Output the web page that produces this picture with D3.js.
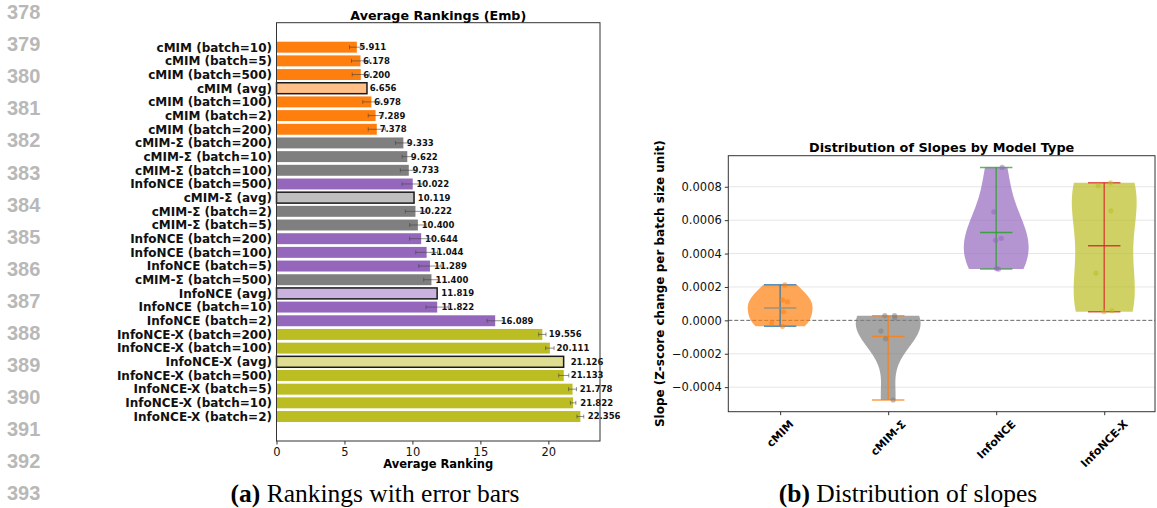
<!DOCTYPE html>
<html>
<head>
<meta charset="utf-8">
<script src="https://cdn.jsdelivr.net/npm/d3@7"></script>
<style>
  body { margin: 0; background: #fff; }
  svg { display: block; font-family: 'DejaVu Sans', sans-serif; }
</style>
</head>
<body>
<div id="root"></div>
<script>
// ---- data: left panel (average rankings) ----
const rankLabels = [
  'cMIM (batch=10)', 'cMIM (batch=5)', 'cMIM (batch=500)', 'cMIM (avg)',
  'cMIM (batch=100)', 'cMIM (batch=2)', 'cMIM (batch=200)',
  'cMIM-Σ (batch=200)', 'cMIM-Σ (batch=10)', 'cMIM-Σ (batch=100)',
  'InfoNCE (batch=500)', 'cMIM-Σ (avg)', 'cMIM-Σ (batch=2)', 'cMIM-Σ (batch=5)',
  'InfoNCE (batch=200)', 'InfoNCE (batch=100)', 'InfoNCE (batch=5)',
  'cMIM-Σ (batch=500)', 'InfoNCE (avg)', 'InfoNCE (batch=10)', 'InfoNCE (batch=2)',
  'InfoNCE-X (batch=200)', 'InfoNCE-X (batch=100)', 'InfoNCE-X (avg)',
  'InfoNCE-X (batch=500)', 'InfoNCE-X (batch=5)', 'InfoNCE-X (batch=10)',
  'InfoNCE-X (batch=2)'
];
const rankValues = [
  5.911, 6.178, 6.200, 6.656, 6.978, 7.289, 7.378,
  9.333, 9.622, 9.733, 10.022, 10.119, 10.222, 10.400,
  10.644, 11.044, 11.289, 11.400, 11.819, 11.822, 16.089,
  19.556, 20.111, 21.126, 21.133, 21.778, 21.822, 22.356
];
// std error (0 for the averaged bars, which have none)
const rankErrors = [
  0.54, 0.66, 0.63, 0, 0.63, 0.54, 0.63,
  0.58, 0.38, 0.62, 0.78, 0, 0.74, 0.60,
  0.85, 0.80, 0.82, 0.57, 0, 0.82, 0.60,
  0.27, 0.31, 0, 0.37, 0.29, 0.20, 0.25
];
const rankTicks = [0, 5, 10, 15, 20];

// ---- data: right panel (slopes by model type) ----
const modelTypes = ['cMIM', 'cMIM-Σ', 'InfoNCE', 'InfoNCE-X'];
const slopes = [
  [0.000213, 0.000122, 0.000111, 0.0000515, -0.0000144, -0.000036],
  [0.000028, 0.000028, 0.000015, -0.000064, -0.00011, -0.000477],
  [0.000916, 0.00065, 0.000491, 0.000479, 0.000307, 0.00031],
  [0.000806, 0.000824, 0.000656, 0.000283, 0.0000515, 0.0000575]
];
// horizontal jitter of the strip points, in category units
const jitter = [
  [0.043, 0.022, 0.068, 0.031, -0.079, 0.022],
  [-0.031, 0.059, 0.062, -0.067, -0.024, 0.046],
  [0.055, -0.022, 0.046, -0.006, 0.021, 0.003],
  [-0.055, 0.058, 0.062, -0.077, -0.003, 0.071]
];
const slopeTicks = [-0.0004, -0.0002, 0, 0.0002, 0.0004, 0.0006, 0.0008];

// ---- styles ----
const groupColor = {
  'cMIM': '#ff7f0e', 'cMIM-Σ': '#7f7f7f', 'InfoNCE': '#9467bd', 'InfoNCE-X': '#bcbd22'
};
const avgColor = {
  'cMIM': '#ffbf86', 'cMIM-Σ': '#bfbfbf', 'InfoNCE': '#c9b3de', 'InfoNCE-X': '#dedd90'
};
const violinLineColor = ['#1f77b4', '#ff7f0e', '#2ca02c', '#d62728'];
const violinMeanColor = ['#8a9088', '#ff7f0e', '#2ca02c', '#d62728'];

const width = 1157;
const height = 508;

const svg = d3.select('#root').append('svg')
  .attr('width', width)
  .attr('height', height);

svg.append('rect').attr('width', width).attr('height', height).attr('fill', '#fff');

// line numbers down the left margin
const lineNums = d3.range(378, 394);
const lineY = d3.scaleLinear().domain([378, 393]).range([12, 493]);
svg.append('g')
  .selectAll('text')
  .data(lineNums)
  .enter()
  .append('text')
  .attr('x', 7)
  .attr('y', d => lineY(d))
  .attr('dy', '0.36em')
  .style('font-family', "'Liberation Sans', Arial, sans-serif")
  .style('font-weight', 'bold')
  .style('font-size', '20px')
  .style('fill', '#b8b8b8')
  .text(d => d);

renderRankings();
renderViolins();
renderCaptions();

function groupOf(label) {
  return label.split(' (')[0];
}

function renderRankings() {
  const box = { left: 276.5, right: 600, top: 22.7, bottom: 441 };
  const x = d3.scaleLinear().domain([0, 23.8]).range([box.left, box.right]);
  const y = d3.scaleLinear()
    .domain([-1.79, rankLabels.length - 1 + 1.79])
    .range([box.top, box.bottom]);
  const barH = y(0.4) - y(-0.4);

  const g = svg.append('g').attr('class', 'rankings');

  const rows = rankLabels.map((label, i) => ({
    label,
    value: rankValues[i],
    err: rankErrors[i],
    group: groupOf(label),
    avg: label.indexOf('(avg)') >= 0,
    i
  }));

  g.selectAll('.bar')
    .data(rows)
    .enter()
    .append('rect')
    .attr('class', 'bar')
    .attr('x', x(0))
    .attr('y', d => y(d.i) - barH / 2)
    .attr('width', d => x(d.value) - x(0))
    .attr('height', barH)
    .attr('fill', d => (d.avg ? avgColor[d.group] : groupColor[d.group]))
    .attr('stroke', d => (d.avg ? '#1a1a1a' : 'none'))
    .attr('stroke-width', 1.5);

  // value labels
  g.selectAll('.val')
    .data(rows)
    .enter()
    .append('text')
    .attr('class', 'val')
    .attr('x', d => x(d.value * 1.022 + 0.05))
    .attr('y', d => y(d.i))
    .attr('dy', '0.35em')
    .style('font-size', '8.5px')
    .style('font-weight', 'bold')
    .style('fill', '#111')
    .text(d => d3.format('.3f')(d.value));

  // error bars
  const eb = g.selectAll('.err')
    .data(rows.filter(d => d.err > 0))
    .enter()
    .append('g')
    .attr('class', 'err')
    .style('stroke', '#444')
    .style('stroke-opacity', 0.6)
    .style('stroke-width', 1);
  eb.append('line')
    .attr('x1', d => x(d.value - d.err))
    .attr('x2', d => x(d.value + d.err))
    .attr('y1', d => y(d.i))
    .attr('y2', d => y(d.i));
  eb.append('line')
    .attr('x1', d => x(d.value - d.err))
    .attr('x2', d => x(d.value - d.err))
    .attr('y1', d => y(d.i) - 2)
    .attr('y2', d => y(d.i) + 2);
  eb.append('line')
    .attr('x1', d => x(d.value + d.err))
    .attr('x2', d => x(d.value + d.err))
    .attr('y1', d => y(d.i) - 2)
    .attr('y2', d => y(d.i) + 2);

  // category labels
  g.selectAll('.cat')
    .data(rows)
    .enter()
    .append('text')
    .attr('class', 'cat')
    .attr('x', box.left - 4.5)
    .attr('y', d => y(d.i))
    .attr('dy', '0.36em')
    .attr('text-anchor', 'end')
    .style('font-size', '12px')
    .style('font-weight', 'bold')
    .style('fill', '#111')
    .text(d => d.label);

  // frame
  g.append('rect')
    .attr('x', box.left)
    .attr('y', box.top)
    .attr('width', box.right - box.left)
    .attr('height', box.bottom - box.top)
    .attr('fill', 'none')
    .attr('stroke', '#333')
    .attr('stroke-width', 1);

  const xAxis = g.append('g')
    .attr('transform', `translate(0, ${box.bottom})`)
    .call(d3.axisBottom(x).tickValues(rankTicks).tickSize(3.5).tickPadding(3));
  xAxis.select('.domain').remove();
  xAxis.selectAll('text')
    .style('font-family', "'DejaVu Sans', sans-serif")
    .style('font-size', '11.5px')
    .style('fill', '#111');
  xAxis.selectAll('line').attr('stroke', '#333');

  g.append('text')
    .attr('x', (box.left + box.right) / 2)
    .attr('y', 468)
    .attr('text-anchor', 'middle')
    .style('font-size', '11.5px')
    .style('font-weight', 'bold')
    .text('Average Ranking');

  g.append('text')
    .attr('x', (box.left + box.right) / 2)
    .attr('y', 19.5)
    .attr('text-anchor', 'middle')
    .style('font-size', '12.7px')
    .style('font-weight', 'bold')
    .text('Average Rankings (Emb)');
}

// gaussian kde with Scott's rule, like matplotlib's violinplot
function kdeProfile(data, n) {
  const m = data.length;
  const mean = d3.mean(data);
  const variance = d3.sum(data, v => (v - mean) * (v - mean)) / (m - 1);
  const factor = Math.pow(m, -1 / 5);
  const bwVar = variance * factor * factor;
  const lo = d3.min(data);
  const hi = d3.max(data);
  const pts = d3.range(n).map(k => lo + (hi - lo) * k / (n - 1));
  return pts.map(p => [
    p,
    d3.sum(data, v => Math.exp(-0.5 * (p - v) * (p - v) / bwVar)) / (m * Math.sqrt(2 * Math.PI * bwVar))
  ]);
}

function renderViolins() {
  const box = { left: 728.3, right: 1155, top: 155.7, bottom: 411.7 };
  const x = d3.scaleLinear().domain([0.52, 4.47]).range([box.left, box.right]);
  const y = d3.scaleLinear().domain([-0.000547, 0.000986]).range([box.bottom, box.top]);
  const violinWidth = 0.6;

  const g = svg.append('g').attr('class', 'violins');

  // grid
  g.selectAll('.grid')
    .data(slopeTicks.filter(t => t !== 0))
    .enter()
    .append('line')
    .attr('class', 'grid')
    .attr('x1', box.left)
    .attr('x2', box.right)
    .attr('y1', d => y(d))
    .attr('y2', d => y(d))
    .attr('stroke', '#e6e6e6')
    .attr('stroke-width', 1);

  g.append('line')
    .attr('x1', box.left)
    .attr('x2', box.right)
    .attr('y1', y(0))
    .attr('y2', y(0))
    .attr('stroke', '#666')
    .attr('stroke-width', 1)
    .attr('stroke-dasharray', '4,2');

  modelTypes.forEach((name, i) => {
    const pos = i + 1;
    const prof = kdeProfile(slopes[i], 100);
    const maxD = d3.max(prof, d => d[1]);
    const half = d => (d[1] / maxD) * violinWidth / 2;

    const vArea = d3.area()
      .y(d => y(d[0]))
      .x0(d => x(pos - half(d)))
      .x1(d => x(pos + half(d)));

    g.append('path')
      .datum(prof)
      .attr('d', vArea)
      .attr('fill', groupColor[name])
      .attr('fill-opacity', 0.7);

    const lo = d3.min(slopes[i]);
    const hi = d3.max(slopes[i]);
    const mu = d3.mean(slopes[i]);
    const cap = violinWidth * 0.25;
    const lines = g.append('g')
      .attr('stroke', violinLineColor[i])
      .attr('stroke-opacity', 0.75)
      .attr('stroke-width', 1.5);
    lines.append('line')
      .attr('x1', x(pos)).attr('x2', x(pos))
      .attr('y1', y(lo)).attr('y2', y(hi));
    [lo, hi].forEach(v => {
      lines.append('line')
        .attr('x1', x(pos - cap)).attr('x2', x(pos + cap))
        .attr('y1', y(v)).attr('y2', y(v));
    });
    g.append('line')
      .attr('x1', x(pos - cap)).attr('x2', x(pos + cap))
      .attr('y1', y(mu)).attr('y2', y(mu))
      .attr('stroke', violinMeanColor[i])
      .attr('stroke-opacity', 0.85)
      .attr('stroke-width', 1.5);

    g.selectAll(null)
      .data(slopes[i])
      .enter()
      .append('circle')
      .attr('cx', (d, k) => x(pos + jitter[i][k]))
      .attr('cy', d => y(d))
      .attr('r', 2.6)
      .attr('fill', groupColor[name])
      .attr('fill-opacity', 0.55);
  });

  g.append('rect')
    .attr('x', box.left)
    .attr('y', box.top)
    .attr('width', box.right - box.left)
    .attr('height', box.bottom - box.top)
    .attr('fill', 'none')
    .attr('stroke', '#333')
    .attr('stroke-width', 1);

  const yAxis = g.append('g')
    .attr('transform', `translate(${box.left}, 0)`)
    .call(d3.axisLeft(y).tickValues(slopeTicks).tickFormat(d3.format('.4f')).tickSize(3.5).tickPadding(3));
  yAxis.select('.domain').remove();
  yAxis.selectAll('text')
    .style('font-family', "'DejaVu Sans', sans-serif")
    .style('font-size', '11.5px')
    .style('fill', '#111');
  yAxis.selectAll('line').attr('stroke', '#333');

  const xAxis = g.append('g')
    .attr('transform', `translate(0, ${box.bottom})`)
    .call(d3.axisBottom(x).tickValues(modelTypes.map((d, i) => i + 1)).tickSize(3.5).tickFormat(''));
  xAxis.select('.domain').remove();
  xAxis.selectAll('line').attr('stroke', '#333');

  // rotated category labels, bounding box centred on the tick
  modelTypes.forEach((name, i) => {
    const t = g.append('text')
      .attr('text-anchor', 'middle')
      .attr('dy', '0.35em')
      .style('font-size', '11px')
      .style('font-weight', 'bold')
      .text(name);
    const len = t.node().getComputedTextLength();
    const ext = (len + 11) * Math.SQRT1_2;
    const cx = x(i + 1);
    const cy = box.bottom + 6.5 + ext / 2;
    t.attr('x', cx).attr('y', cy).attr('transform', `rotate(-45, ${cx}, ${cy})`);
  });

  g.append('text')
    .attr('transform', `translate(664, ${(box.top + box.bottom) / 2}) rotate(-90)`)
    .attr('text-anchor', 'middle')
    .style('font-size', '12px')
    .style('font-weight', 'bold')
    .text('Slope (Z-score change per batch size unit)');

  g.append('text')
    .attr('x', (box.left + box.right) / 2)
    .attr('y', 152)
    .attr('text-anchor', 'middle')
    .style('font-size', '12.8px')
    .style('font-weight', 'bold')
    .text('Distribution of Slopes by Model Type');
}

function renderCaptions() {
  const caps = [
    { tag: '(a)', text: ' Rankings with error bars', cx: 375 },
    { tag: '(b)', text: ' Distribution of slopes', cx: 908 }
  ];
  const t = svg.selectAll('.caption')
    .data(caps)
    .enter()
    .append('text')
    .attr('class', 'caption')
    .attr('x', d => d.cx)
    .attr('y', 502)
    .attr('text-anchor', 'middle')
    .style('font-family', "'Liberation Serif', 'Times New Roman', serif")
    .style('font-size', '25.5px')
    .style('fill', '#000');
  t.append('tspan').style('font-weight', 'bold').text(d => d.tag);
  t.append('tspan').text(d => d.text);
}
</script>
</body>
</html>
